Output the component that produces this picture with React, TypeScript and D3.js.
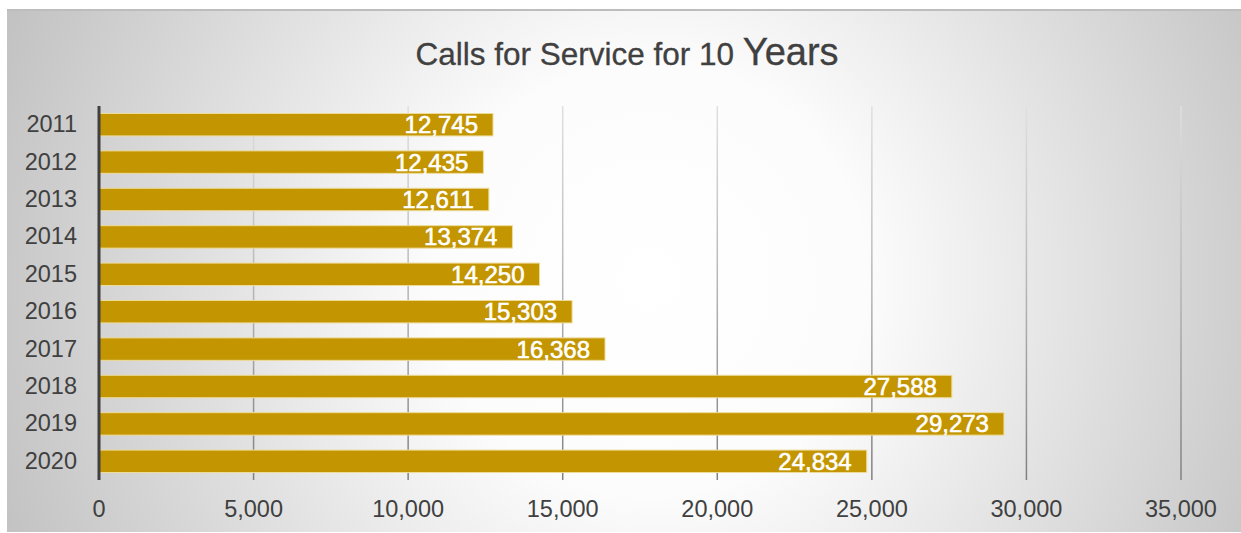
import React, { useRef, useEffect } from 'react';
import * as d3 from 'd3';

const years = ['2011', '2012', '2013', '2014', '2015', '2016', '2017', '2018', '2019', '2020'];
const calls = [12745, 12435, 12611, 13374, 14250, 15303, 16368, 27588, 29273, 24834];
const xTicks = [0, 5000, 10000, 15000, 20000, 25000, 30000, 35000];

const WIDTH = 1241;
const HEIGHT = 533;
const FONT = '"Liberation Sans", Arial, Helvetica, sans-serif';

const App = () => {
  const svgRef = useRef<SVGSVGElement>(null);

  useEffect(() => {
    const svg = d3.select(svgRef.current).attr('width', WIDTH).attr('height', HEIGHT);
    svg.selectAll('*').remove();

    const defs = svg.append('defs');
    const bg = defs
      .append('radialGradient')
      .attr('id', 'bg')
      .attr('gradientUnits', 'userSpaceOnUse')
      .attr('cx', 650)
      .attr('cy', 280)
      .attr('r', 720);
    bg.append('stop').attr('offset', 0).attr('stop-color', '#ffffff');
    bg.append('stop').attr('offset', 0.3).attr('stop-color', '#fcfcfc');
    bg.append('stop').attr('offset', 1).attr('stop-color', '#bfbfbf');

    const grid = defs
      .append('linearGradient')
      .attr('id', 'grid')
      .attr('gradientUnits', 'userSpaceOnUse')
      .attr('x1', 0)
      .attr('y1', 106)
      .attr('x2', 0)
      .attr('y2', 480);
    grid.append('stop').attr('offset', 0).attr('stop-color', '#e0e0e0');
    grid.append('stop').attr('offset', 0.5).attr('stop-color', '#b4b4b4');
    grid.append('stop').attr('offset', 1).attr('stop-color', '#808080');

    // panel
    svg.append('rect').attr('x', 7).attr('y', 10).attr('width', WIDTH - 7).attr('height', 522).attr('fill', 'url(#bg)');
    svg.append('line').attr('x1', 7).attr('x2', WIDTH).attr('y1', 10).attr('y2', 10).attr('stroke', '#bdbdbd').attr('stroke-width', 2);

    const x = d3.scaleLinear().domain([0, 35000]).range([99, 1181]);
    const y = d3.scaleBand().domain(years).range([106, 480]).paddingInner(0.4).paddingOuter(0.2);

    // title
    const title = svg
      .append('text')
      .attr('x', 627)
      .attr('y', 65)
      .attr('text-anchor', 'middle')
      .attr('font-family', FONT)
      .attr('fill', '#404040')
      .attr('stroke', '#404040')
      .attr('stroke-width', 0.3);
    title.append('tspan').attr('font-size', 31.5).text('Calls for Service for 10 ');
    title.append('tspan').attr('font-size', 38).text('Years');

    // gridlines
    svg
      .selectAll('.grid')
      .data(xTicks.slice(1))
      .enter()
      .append('line')
      .attr('class', 'grid')
      .attr('x1', d => x(d))
      .attr('x2', d => x(d))
      .attr('y1', 106)
      .attr('y2', 480)
      .attr('stroke', 'url(#grid)')
      .attr('stroke-width', 1.5);

    // x tick labels
    svg
      .selectAll('.xtick')
      .data(xTicks)
      .enter()
      .append('text')
      .attr('class', 'xtick')
      .attr('x', d => x(d))
      .attr('y', 517)
      .attr('text-anchor', 'middle')
      .attr('font-family', FONT)
      .attr('font-size', 23.5)
      .attr('fill', '#404040')
      .text(d => d3.format(',')(d));

    // bars
    const data = years.map((yr, i) => ({ year: yr, value: calls[i] }));
    svg
      .selectAll('.bar')
      .data(data)
      .enter()
      .append('rect')
      .attr('class', 'bar')
      .attr('x', x(0))
      .attr('y', d => y(d.year)!)
      .attr('width', d => x(d.value) - x(0))
      .attr('height', y.bandwidth())
      .attr('fill', '#c39500')
      .attr('stroke', '#eedc9a')
      .attr('stroke-width', 1);

    // value labels
    svg
      .selectAll('.label')
      .data(data)
      .enter()
      .append('text')
      .attr('class', 'label')
      .attr('x', d => x(d.value) - 15)
      .attr('y', d => y(d.year)! + y.bandwidth() / 2 + 8.5)
      .attr('text-anchor', 'end')
      .attr('font-family', FONT)
      .attr('font-size', 24)
      .attr('fill', '#ffffff')
      .attr('stroke', '#ffffff')
      .attr('stroke-width', 0.6)
      .text(d => d3.format(',')(d.value));

    // y labels
    svg
      .selectAll('.ylab')
      .data(years)
      .enter()
      .append('text')
      .attr('class', 'ylab')
      .attr('x', 77)
      .attr('y', d => y(d)! + y.bandwidth() / 2 + 7.5)
      .attr('text-anchor', 'end')
      .attr('font-family', FONT)
      .attr('font-size', 23.5)
      .attr('fill', '#404040')
      .text(d => d);

    // y axis line
    svg
      .append('line')
      .attr('x1', x(0))
      .attr('x2', x(0))
      .attr('y1', 106)
      .attr('y2', 480)
      .attr('stroke', '#404040')
      .attr('stroke-width', 3);
  }, []);

  return <svg ref={svgRef} style={{ position: 'absolute', left: 0, top: 0 }}></svg>;
};

export default App;
